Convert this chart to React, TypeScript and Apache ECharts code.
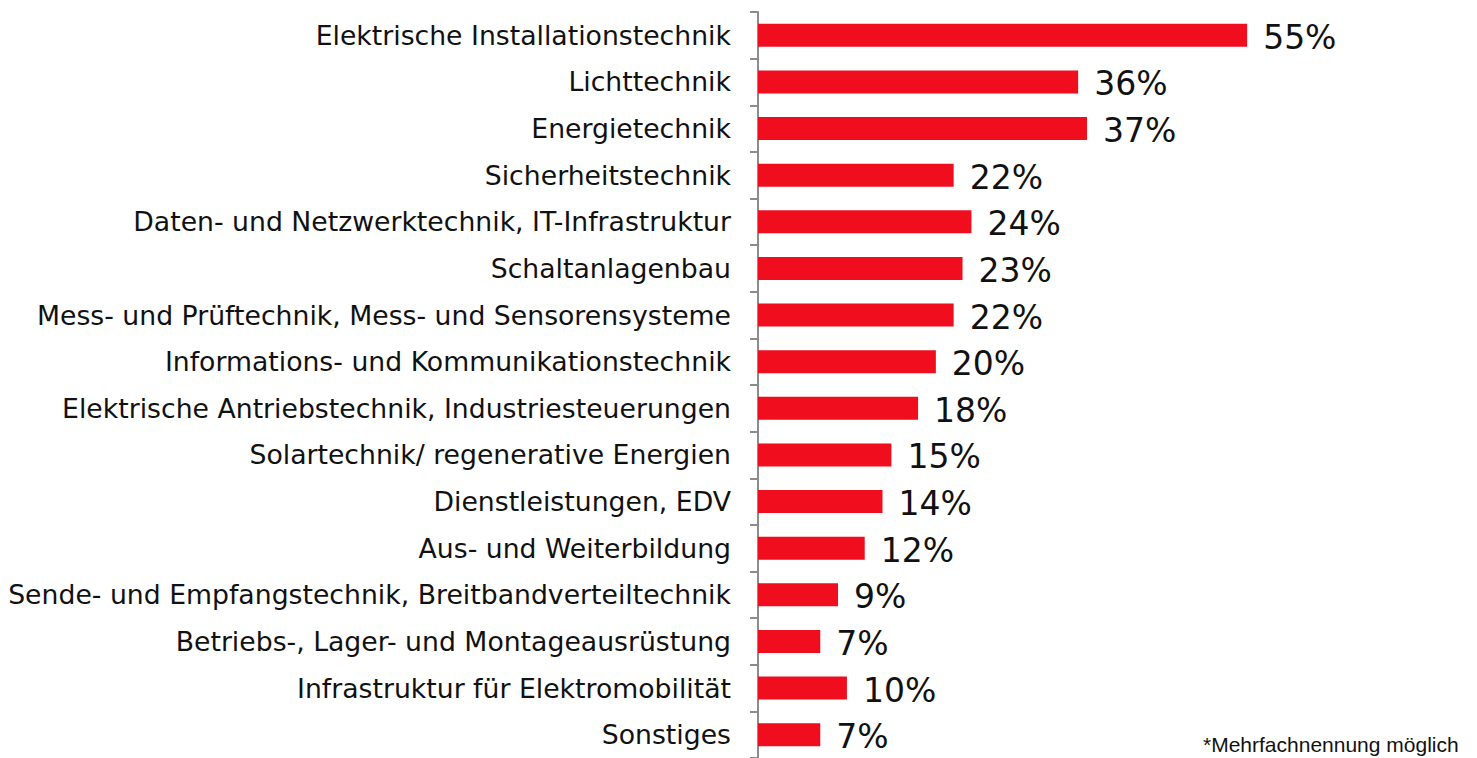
import React, { useEffect, useRef } from "react";
import * as echarts from "echarts";

const categories = [
  "Elektrische Installationstechnik",
  "Lichttechnik",
  "Energietechnik",
  "Sicherheitstechnik",
  "Daten- und Netzwerktechnik, IT-Infrastruktur",
  "Schaltanlagenbau",
  "Mess- und Prüftechnik, Mess- und Sensorensysteme",
  "Informations- und Kommunikationstechnik",
  "Elektrische Antriebstechnik, Industriesteuerungen",
  "Solartechnik/ regenerative Energien",
  "Dienstleistungen, EDV",
  "Aus- und Weiterbildung",
  "Sende- und Empfangstechnik, Breitbandverteiltechnik",
  "Betriebs-, Lager- und Montageausrüstung",
  "Infrastruktur für Elektromobilität",
  "Sonstiges",
];

const values = [55, 36, 37, 22, 24, 23, 22, 20, 18, 15, 14, 12, 9, 7, 10, 7];

const footnote = "*Mehrfachnennung möglich";

export default function App() {
  const ref = useRef<HTMLDivElement>(null);
  useEffect(() => {
    if (!ref.current) return;
    const chart = echarts.init(ref.current, null, { renderer: "svg" });
    chart.setOption({
      animation: false,
      backgroundColor: "#ffffff",
      grid: { left: 758, right: 185.4, top: 12, height: 752, containLabel: false },
      xAxis: {
        type: "value",
        min: 0,
        max: 60,
        show: false,
      },
      yAxis: {
        type: "category",
        data: categories,
        inverse: true,
        axisLine: { show: true, lineStyle: { color: "#8c8c8c", width: 2 } },
        axisTick: { show: true, length: 8, lineStyle: { color: "#8c8c8c", width: 2 } },
        axisLabel: {
          fontFamily: "DejaVu Sans",
          fontSize: 26.7,
          color: "#111111",
          margin: 27,
        },
        splitLine: { show: false },
      },
      series: [
        {
          type: "bar",
          data: values,
          barWidth: 23,
          itemStyle: { color: "#F00D1E" },
          label: {
            show: true,
            position: "right",
            distance: 16,
            offset: [0, 2],
            formatter: "{c}%",
            fontFamily: "DejaVu Sans",
            fontSize: 33,
            color: "#111111",
          },
        },
      ],
      graphic: [
        {
          type: "text",
          left: 1203,
          top: 734,
          style: {
            text: footnote,
            fontFamily: "Liberation Sans",
            fontSize: 21,
            fill: "#111111",
          },
        },
      ],
    });
    return () => chart.dispose();
  }, []);
  return (
    <div
      ref={ref}
      style={{ position: "fixed", left: 0, top: 0, width: 1477, height: 758 }}
    />
  );
}
